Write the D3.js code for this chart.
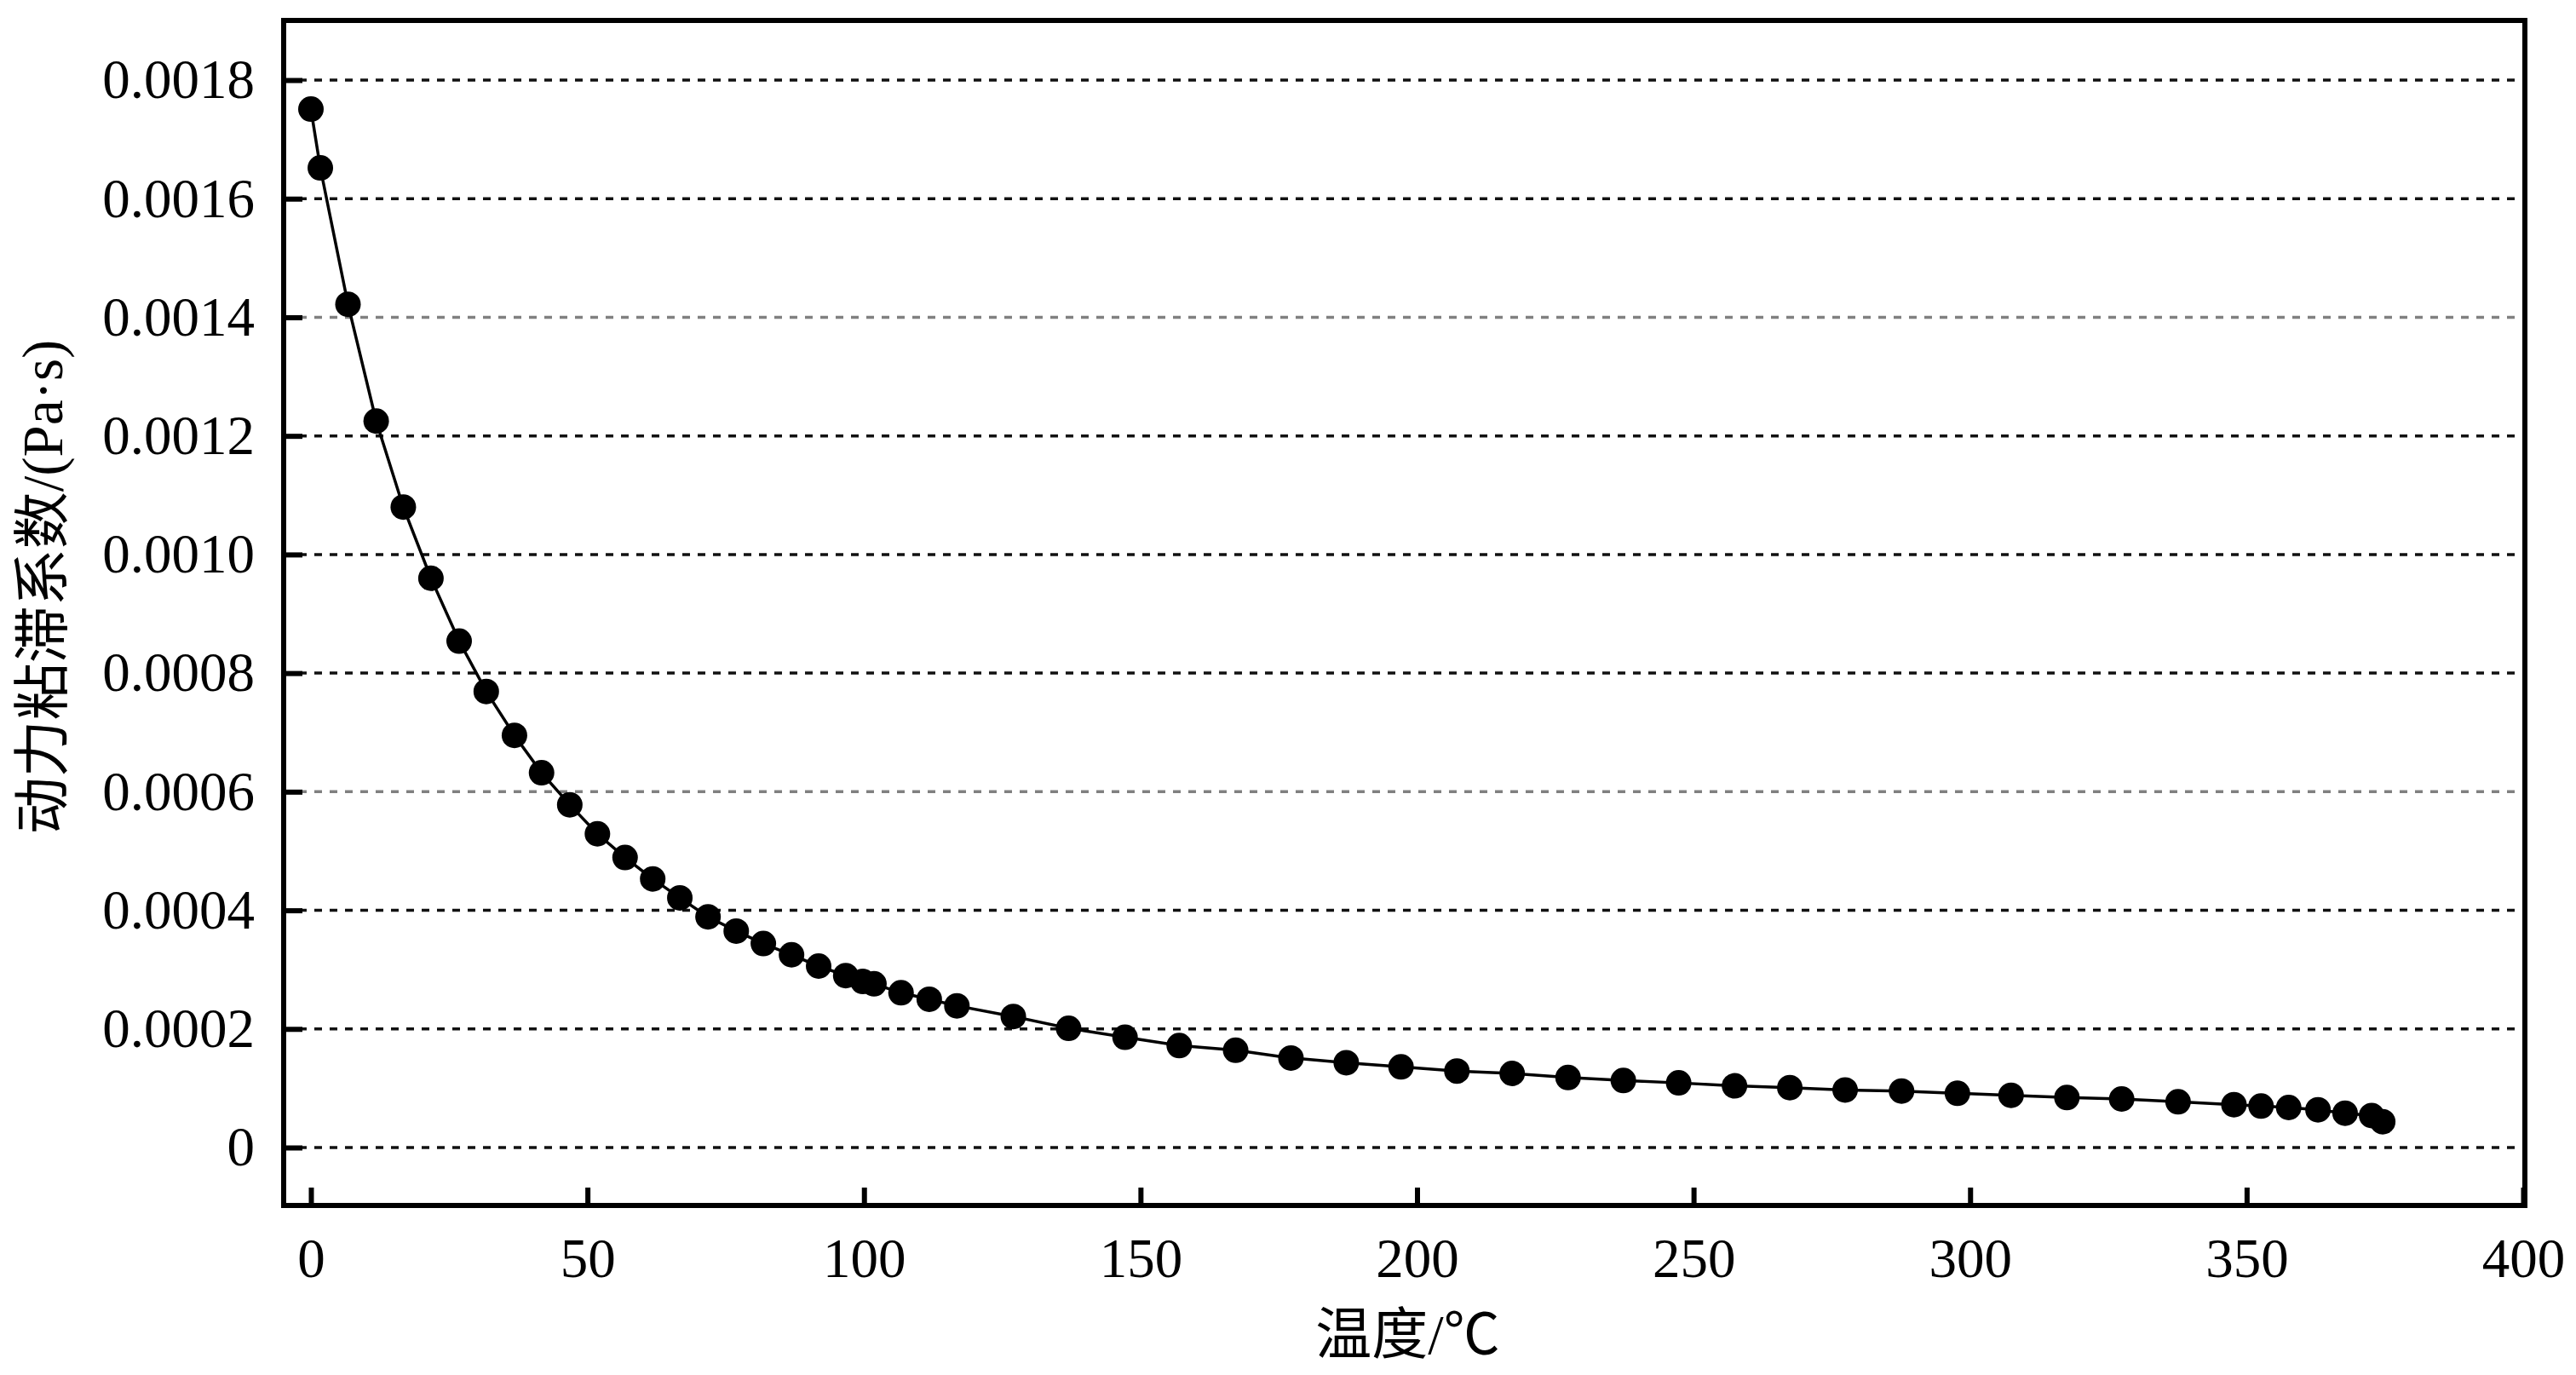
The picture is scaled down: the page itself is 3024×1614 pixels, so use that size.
<!DOCTYPE html>
<html>
<head>
<meta charset="utf-8">
<script src="https://cdn.jsdelivr.net/npm/d3@7"></script>
<style>
  html, body { margin: 0; padding: 0; background: #fff; }
  svg { display: block; }
</style>
</head>
<body>
<script>
// ---- data ----
const temperature = [0, 1.7, 6.7, 11.8, 16.7, 21.7, 26.8, 31.7, 36.8, 41.7, 46.8, 51.8, 56.8, 61.8, 66.7, 71.8, 76.9, 81.8, 86.9, 91.8, 96.7, 99.8, 101.8, 106.7, 111.8, 116.8, 127, 137, 147.2, 157, 167.2, 177.2, 187.2, 197.1, 207.2, 217.2, 227.3, 237.3, 247.3, 257.4, 267.4, 277.4, 287.6, 297.7, 307.4, 317.5, 327.4, 337.6, 347.7, 352.6, 357.6, 362.9, 367.8, 372.6, 374.6];
const viscosity = [0.001751, 0.001652, 0.001422, 0.001225, 0.001080, 0.000960, 0.000854, 0.000769, 0.000695, 0.000632, 0.000578, 0.000529, 0.000489, 0.000453, 0.000421, 0.000389, 0.000365, 0.000344, 0.000325, 0.000306, 0.000290, 0.000280, 0.000276, 0.000261, 0.000250, 0.000239, 0.000221, 0.000201, 0.000186, 0.000172, 0.000164, 0.000151, 0.000143, 0.000136, 0.000129, 0.000125, 0.000118, 0.000113, 0.000109, 0.000104, 0.000101, 0.000097, 0.0000953, 0.0000915, 0.0000881, 0.0000843, 0.0000819, 0.0000771, 0.0000723, 0.0000700, 0.0000675, 0.0000637, 0.0000579, 0.0000540, 0.0000436];
const xTicks = [0, 50, 100, 150, 200, 250, 300, 350, 400];
const yTicks = [0, 0.0002, 0.0004, 0.0006, 0.0008, 0.0010, 0.0012, 0.0014, 0.0016, 0.0018];
const xTitle = "温度/℃";
const yTitle = "动力粘滞系数/(Pa·s)";

// ---- layout ----
const W = 3024, H = 1614;
const frame = { left: 333, right: 2964, top: 24, bottom: 1415 };
const xScale = d3.scaleLinear().domain([0, 400]).range([365, 2962]);
const yScale = d3.scaleLinear().domain([0, 0.0018]).range([1347, 94]);

const svg = d3.select("body").append("svg").attr("width", W).attr("height", H);
svg.append("rect").attr("width", W).attr("height", H).attr("fill", "#fff");

const serif = "'Liberation Serif', 'Times New Roman', 'Noto Sans CJK SC', serif";

// grid lines
const lightGrid = new Set([0.0014, 0.0006]);
svg.append("g").selectAll("line").data(yTicks).join("line")
  .attr("x1", frame.left).attr("x2", frame.right)
  .attr("y1", d => yScale(d)).attr("y2", d => yScale(d))
  .attr("stroke", d => lightGrid.has(d) ? "#808080" : "#111")
  .attr("stroke-width", 3.5)
  .attr("stroke-dasharray", "9,9");

// line
const pts = temperature.map((t, i) => [t, viscosity[i]]);
svg.append("path")
  .datum(pts)
  .attr("fill", "none")
  .attr("stroke", "#000")
  .attr("stroke-width", 3.5)
  .attr("d", d3.line().x(d => xScale(d[0])).y(d => yScale(d[1])));

// markers
svg.append("g").selectAll("circle").data(pts).join("circle")
  .attr("cx", d => xScale(d[0])).attr("cy", d => yScale(d[1]))
  .attr("r", 15).attr("fill", "#000");

// axes (ticks inside)
const yAxis = d3.axisLeft(yScale).tickValues(yTicks)
  .tickSize(-22).tickPadding(34)
  .tickFormat(d => d === 0 ? "0" : d3.format(".4f")(d));
const gy = svg.append("g").attr("transform", `translate(${frame.left},0)`).call(yAxis);
gy.select(".domain").remove();
gy.selectAll(".tick line").attr("stroke", "#000").attr("stroke-width", 6);
gy.selectAll(".tick text").attr("font-family", serif).attr("font-size", 65).attr("fill", "#000");

const xAxis = d3.axisBottom(xScale).tickValues(xTicks)
  .tickSize(-21).tickPadding(38)
  .tickFormat(d3.format("d"));
const gx = svg.append("g").attr("transform", `translate(0,${frame.bottom})`).call(xAxis);
gx.select(".domain").remove();
gx.selectAll(".tick line").attr("stroke", "#000").attr("stroke-width", 6);
gx.selectAll(".tick text").attr("font-family", serif).attr("font-size", 65).attr("fill", "#000")
  .attr("dy", "0.71em");

// frame
svg.append("rect")
  .attr("x", frame.left).attr("y", frame.top)
  .attr("width", frame.right - frame.left).attr("height", frame.bottom - frame.top)
  .attr("fill", "none").attr("stroke", "#000").attr("stroke-width", 6);

// titles
svg.append("text")
  .attr("x", (frame.left + frame.right) / 2 + 4).attr("y", 1566)
  .attr("text-anchor", "middle").attr("dominant-baseline", "central")
  .attr("font-family", serif).attr("font-size", 66).attr("fill", "#000")
  .text(xTitle);

svg.append("text")
  .attr("transform", `translate(50,689) rotate(-90)`)
  .attr("text-anchor", "middle").attr("dominant-baseline", "central")
  .attr("font-family", serif).attr("font-size", 67).attr("fill", "#000")
  .text(yTitle);
</script>
</body>
</html>
